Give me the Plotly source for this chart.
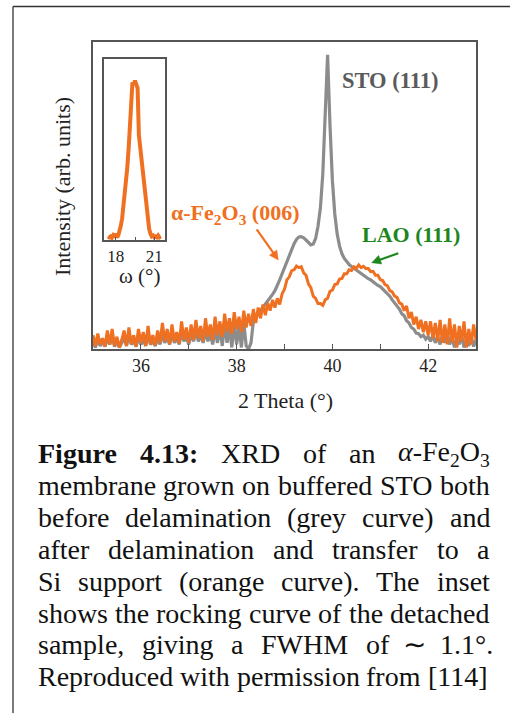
import re
import plotly.graph_objects as go

# ---------------------------------------------------------------- data
two_theta = [
    35.00, 35.05, 35.10, 35.15, 35.20, 35.25, 35.30, 35.35, 35.40, 35.45,
    35.50, 35.55, 35.60, 35.65, 35.70, 35.75, 35.80, 35.85, 35.90, 35.95,
    36.00, 36.05, 36.10, 36.15, 36.20, 36.25, 36.30, 36.35, 36.40, 36.45,
    36.50, 36.55, 36.60, 36.65, 36.70, 36.75, 36.80, 36.85, 36.90, 36.95,
    37.00, 37.05, 37.10, 37.15, 37.20, 37.25, 37.30, 37.35, 37.40, 37.45,
    37.50, 37.55, 37.60, 37.65, 37.70, 37.75, 37.80, 37.85, 37.90, 37.95,
    38.00, 38.05, 38.10, 38.15, 38.20, 38.25, 38.30, 38.35, 38.40, 38.45,
    38.50, 38.55, 38.60, 38.65, 38.70, 38.75, 38.80, 38.85, 38.90, 38.95,
    39.00, 39.05, 39.10, 39.15, 39.20, 39.25, 39.30, 39.35, 39.40, 39.45,
    39.50, 39.55, 39.60, 39.65, 39.70, 39.75, 39.80, 39.85, 39.90, 39.95,
    40.00, 40.05, 40.10, 40.15, 40.20, 40.25, 40.30, 40.35, 40.40, 40.45,
    40.50, 40.55, 40.60, 40.65, 40.70, 40.75, 40.80, 40.85, 40.90, 40.95,
    41.00, 41.05, 41.10, 41.15, 41.20, 41.25, 41.30, 41.35, 41.40, 41.45,
    41.50, 41.55, 41.60, 41.65, 41.70, 41.75, 41.80, 41.85, 41.90, 41.95,
    42.00, 42.05, 42.10, 42.15, 42.20, 42.25, 42.30, 42.35, 42.40, 42.45,
    42.50, 42.55, 42.60, 42.65, 42.70, 42.75, 42.80, 42.85, 42.90, 42.95,
    43.00,
]

# as-grown film on buffered STO (grey)
intensity_on_sto = [
    2.0, 0.5, 3.0, 1.0, 2.5, 0.8, 3.5, 1.5, 4.0, 0.8,
    2.5, 0.5, 2.0, 3.5, 1.0, 4.5, 1.5, 2.5, 0.8, 4.0,
    1.5, 3.0, 1.0, 4.5, 1.5, 2.5, 1.0, 3.5, 1.5, 5.0,
    2.0, 4.0, 1.5, 5.0, 2.0, 3.5, 1.5, 5.5, 2.5, 4.0,
    1.5, 5.0, 2.5, 6.0, 2.5, 4.5, 2.0, 6.0, 2.5, 5.0,
    1.5, 6.5, 2.0, 7.0, 1.0, 8.0, 2.0, 7.0, 0.5, 8.5,
    1.5, 7.5, 0.5, 8.5, 1.0, 0.0, 2.0, 9.0, 10.5, 11.5,
    12.5, 13.5, 14.5, 15.5, 16.5, 17.8, 19.0, 20.5, 22.5, 24.5,
    26.5, 28.5, 30.5, 32.5, 34.3, 35.7, 36.5, 36.6, 36.2, 35.5,
    34.6, 33.9, 34.2, 36.0, 40.0, 46.0, 57.0, 76.0, 95.8, 73.0,
    55.0, 44.0, 37.5, 33.5, 31.0, 29.5, 28.3, 27.5, 26.9, 26.3,
    25.7, 25.2, 24.6, 24.0, 23.6, 22.9, 22.5, 21.8, 21.4, 20.7,
    20.3, 19.5, 19.0, 18.0, 17.2, 16.0, 15.0, 13.8, 13.0, 11.5,
    10.8, 9.2, 8.5, 7.0, 6.5, 5.2, 5.0, 4.0, 4.5, 3.2,
    4.0, 2.5, 4.5, 2.0, 4.0, 1.5, 4.5, 2.0, 5.0, 1.5,
    4.0, 0.5, 3.5, 1.5, 4.5, 0.5, 3.0, 1.0, 4.0, 0.8,
    3.0,
]

# membrane after delamination and transfer to Si (orange)
intensity_on_si = [
    4.5, 1.0, 5.0, 1.5, 3.5, 0.8, 6.0, 1.5, 6.5, 1.0,
    4.0, 0.5, 3.0, 6.0, 1.0, 7.0, 1.5, 4.5, 0.8, 6.5,
    2.0, 5.5, 1.0, 7.5, 1.5, 4.5, 1.2, 6.0, 2.0, 8.5,
    2.5, 6.5, 1.5, 8.0, 2.5, 5.5, 1.8, 9.0, 3.0, 7.0,
    2.0, 8.0, 3.0, 9.5, 3.5, 7.5, 2.5, 10.0, 4.0, 8.0,
    3.0, 10.5, 4.5, 9.0, 4.0, 11.5, 5.5, 10.0, 5.0, 12.0,
    6.5, 10.5, 5.5, 12.5, 7.0, 11.5, 7.5, 13.0, 8.5, 13.5,
    10.0, 14.5, 11.0, 15.0, 12.5, 16.0, 13.5, 16.5, 14.5, 18.0,
    19.5, 22.5, 23.5, 25.5, 25.8, 27.0, 26.5, 26.8, 24.8, 24.0,
    21.2, 20.0, 17.2, 16.5, 14.8, 14.8, 14.2, 16.0, 16.5, 18.8,
    19.2, 21.0, 21.2, 22.8, 23.0, 24.5, 24.5, 25.8, 25.6, 26.8,
    26.3, 27.4, 26.5, 26.9, 26.2, 26.2, 25.2, 25.3, 24.0, 24.0,
    22.6, 22.3, 21.0, 20.6, 19.0, 18.6, 17.2, 16.8, 15.0, 14.6,
    12.5, 14.0, 10.0, 12.0, 8.0, 10.5, 6.5, 9.5, 5.5, 9.0,
    4.5, 9.0, 3.5, 8.5, 2.5, 9.5, 2.0, 8.0, 1.5, 10.0,
    2.0, 8.0, 0.5, 7.5, 2.5, 9.0, 0.5, 6.5, 1.5, 8.0,
    3.0,
]

# rocking curve of the detached membrane (inset)
omega = [
    17.4, 17.5, 17.6, 17.7, 17.8, 17.9, 18.0, 18.1, 18.2, 18.3,
    18.4, 18.5, 18.6, 18.7, 18.8, 18.9, 19.0, 19.1, 19.2, 19.3,
    19.4, 19.5, 19.6, 19.7, 19.8, 19.9, 20.0, 20.1, 20.2, 20.3,
    20.4, 20.5, 20.6, 20.7, 20.8, 20.9, 21.0, 21.1, 21.2, 21.3,
    21.4, 21.5,
]
rocking = [
    2.0, 1.5, 2.0, 1.2, 2.5, 1.5, 3.5, 1.5, 2.5, 4.5,
    8.0, 12.0, 18.0, 25.0, 32.0, 40.0, 50.0, 62.0, 80.0, 87.0,
    86.0, 88.0, 86.0, 84.0, 58.0, 51.0, 44.0, 36.0, 29.0, 22.0,
    16.0, 10.5, 6.0, 3.5, 2.0, 2.5, 1.5, 2.0, 1.5, 2.5,
    1.5, 2.0,
]

main_labelled_ticks = [36, 38, 40, 42]
main_minor_ticks = [37, 39, 41]
inset_labelled_ticks = [18, 21]
inset_minor_ticks = [19.5]

# ---------------------------------------------------------------- style
W, H = 510, 713
SERIF = "Liberation Serif"
ORANGE = "#F07022"
GREY = "#8C8C8C"
GREEN = "#1C871C"
FRAME = "#555555"
INK = "#222222"


def fx(px):
    return px / W


def fy(py):
    return 1 - py / H


fig = go.Figure()
fig.add_trace(go.Scatter(x=two_theta, y=intensity_on_sto, mode="lines",
                         line=dict(color=GREY, width=3.2), xaxis="x", yaxis="y"))
fig.add_trace(go.Scatter(x=two_theta, y=intensity_on_si, mode="lines",
                         line=dict(color=ORANGE, width=3), xaxis="x", yaxis="y"))
fig.add_trace(go.Scatter(x=omega, y=rocking, mode="lines",
                         line=dict(color=ORANGE, width=4), xaxis="x2", yaxis="y2"))

axis_common = dict(showline=True, mirror=True, linecolor=FRAME, linewidth=1.5,
                   showgrid=False, zeroline=False, automargin=False)

fig.update_layout(
    width=W, height=H,
    margin=dict(l=0, r=0, t=0, b=0),
    paper_bgcolor="white", plot_bgcolor="white",
    showlegend=False,
    font=dict(family=SERIF, color=INK),
    xaxis=dict(**axis_common, domain=[fx(93), fx(476)], range=[35, 43],
               tickmode="array", tickvals=main_labelled_ticks,
               ticks="inside", ticklen=5, tickwidth=1.2, tickcolor=FRAME,
               minor=dict(tickmode="array", tickvals=main_minor_ticks, ticks="inside",
                          ticklen=5, tickwidth=1.2, tickcolor=FRAME, showgrid=False),
               tickfont=dict(size=18, family=SERIF, color=INK),
               anchor="y"),
    yaxis=dict(**axis_common, domain=[fy(349), fy(42)], range=[0, 100],
               showticklabels=False, ticks="", anchor="x"),
    xaxis2=dict(**axis_common, domain=[fx(104), fx(165)], range=[17.09, 21.83],
                tickmode="array", tickvals=inset_labelled_ticks,
                ticks="inside", ticklen=3, tickwidth=1.2, tickcolor=FRAME,
                minor=dict(tickmode="array", tickvals=inset_minor_ticks, ticks="inside",
                           ticklen=3, tickwidth=1.2, tickcolor=FRAME, showgrid=False),
                tickfont=dict(size=17, family=SERIF, color=INK),
                anchor="y2"),
    yaxis2=dict(**axis_common, domain=[fy(240), fy(59)], range=[0, 100],
                showticklabels=False, ticks="", anchor="x2"),
)

shapes = []
# page frame around figure and caption
shapes.append(dict(type="line", xref="paper", yref="paper",
                   x0=fx(13), y0=fy(6.5), x1=1.0, y1=fy(6.5),
                   line=dict(color="#333333", width=1.3)))
shapes.append(dict(type="line", xref="paper", yref="paper",
                   x0=fx(13), y0=fy(6.5), x1=fx(13), y1=0.0,
                   line=dict(color="#333333", width=1.3)))


def arrow(tail, tip, color, head_len=9.0, head_half=4.5):
    """Straight pointer with a filled triangular head (pixel positions)."""
    dx, dy = tip[0] - tail[0], tip[1] - tail[1]
    n = (dx * dx + dy * dy) ** 0.5
    ux, uy = dx / n, dy / n
    bx, by = tip[0] - ux * head_len, tip[1] - uy * head_len
    shapes.append(dict(type="line", xref="paper", yref="paper",
                       x0=fx(tail[0]), y0=fy(tail[1]), x1=fx(bx + ux), y1=fy(by + uy),
                       line=dict(color=color, width=2.2)))
    p1 = (bx - uy * head_half, by + ux * head_half)
    p2 = (bx + uy * head_half, by - ux * head_half)
    path = "M {} {} L {} {} L {} {} Z".format(
        fx(tip[0]), fy(tip[1]), fx(p1[0]), fy(p1[1]), fx(p2[0]), fy(p2[1]))
    shapes.append(dict(type="path", xref="paper", yref="paper", path=path,
                       fillcolor=color, line=dict(color=color, width=0.5)))


arrow((256.7, 229.3), (278.3, 260), ORANGE)
arrow((398.3, 253.3), (371.7, 262.7), GREEN)

ann = []


def text(s, x, y, size, color=INK, xanchor="center", angle=0):
    ann.append(dict(text=s, x=fx(x), y=fy(y), xref="paper", yref="paper",
                    xanchor=xanchor, yanchor="middle", showarrow=False,
                    textangle=angle, borderpad=0,
                    font=dict(family=SERIF, size=size, color=color)))


# axis titles
text("Intensity (arb. units)", 62, 187, 22, angle=-90)
text("2 Theta (°)", 285, 400, 22)
text("ω (°)", 139, 276, 21)

# peak labels
text("<b>STO (111)</b>", 390.5, 80, 22.5, color="#5A5A5A")
text("<b>α-Fe<sub>2</sub>O<sub>3</sub> (006)</b>", 235.5, 214, 22, color=ORANGE)
text("<b>LAO (111)</b>", 410.5, 234, 22, color=GREEN)

# ---------------------------------------------------------------- caption
# Times-compatible advance widths (per 1000 em) used to justify each line
REG = dict(zip("abcdefghijklmnopqrstuvwxyz",
               [444, 500, 444, 500, 444, 333, 500, 500, 278, 278, 500, 278, 778,
                500, 500, 500, 500, 333, 389, 278, 500, 500, 722, 500, 500, 444]))
REG.update(dict(zip("ABCDEFGHIJKLMNOPQRSTUVWXYZ",
                    [722, 667, 667, 722, 611, 556, 722, 722, 333, 389, 722, 611, 889,
                     722, 722, 556, 722, 667, 556, 611, 722, 722, 944, 722, 722, 611])))
REG.update({c: 500 for c in "0123456789"})
REG.update({" ": 250, "(": 333, ")": 333, ",": 250, "-": 333, ".": 250, ":": 278,
            "[": 333, "]": 333, "°": 400, "∼": 541, "α": 520})
BOLD = dict(REG)
BOLD.update({"F": 611, "u": 556, "r": 444, ":": 333})

CAP_SIZE = 28
CAP_INK = "#111111"


def html_width(s, size):
    table = BOLD if "<b>" in s else REG
    scale = 1.0
    total = 0.0
    for tok in re.split(r"(<[^>]+>)", s):
        if tok == "<sub>":
            scale = 0.7
        elif tok == "</sub>":
            scale = 1.0
        elif tok.startswith("<"):
            continue
        else:
            total += sum(table.get(c, 500) for c in tok) * scale
    return total / 1000 * size


caption_lines = [
    "<b>Figure</b>|<b>4.13:</b>|XRD|of|an|<i>α</i>-Fe<sub>2</sub>O<sub>3</sub>",
    "membrane|grown|on|buffered|STO|both",
    "before|delamination|(grey|curve)|and",
    "after|delamination|and|transfer|to|a",
    "Si|support|(orange|curve).|The|inset",
    "shows|the|rocking|curve|of|the|detached",
    "sample,|giving|a|FWHM|of|∼|1.1°.",
    "Reproduced|with|permission|from|[114]",
]
line_right = [490, 490, 490, 490, 490, 490, 493, 488]
CAP_LEFT = 38
CAP_TOP = 453.8
CAP_STEP = 31.86

# justified lines: equal gaps, each word centred on its slot
for i, line in enumerate(caption_lines):
    words = line.split("|")
    widths = [html_width(w, CAP_SIZE) for w in words]
    gap = (line_right[i] - CAP_LEFT - sum(widths)) / (len(words) - 1)
    y = CAP_TOP + CAP_STEP * i
    x = CAP_LEFT
    for w, wd in zip(words, widths):
        text(w, x + wd / 2, y, CAP_SIZE, color=CAP_INK)
        x += wd + gap

fig.update_layout(annotations=ann, shapes=shapes)
fig.write_html("out.html")
